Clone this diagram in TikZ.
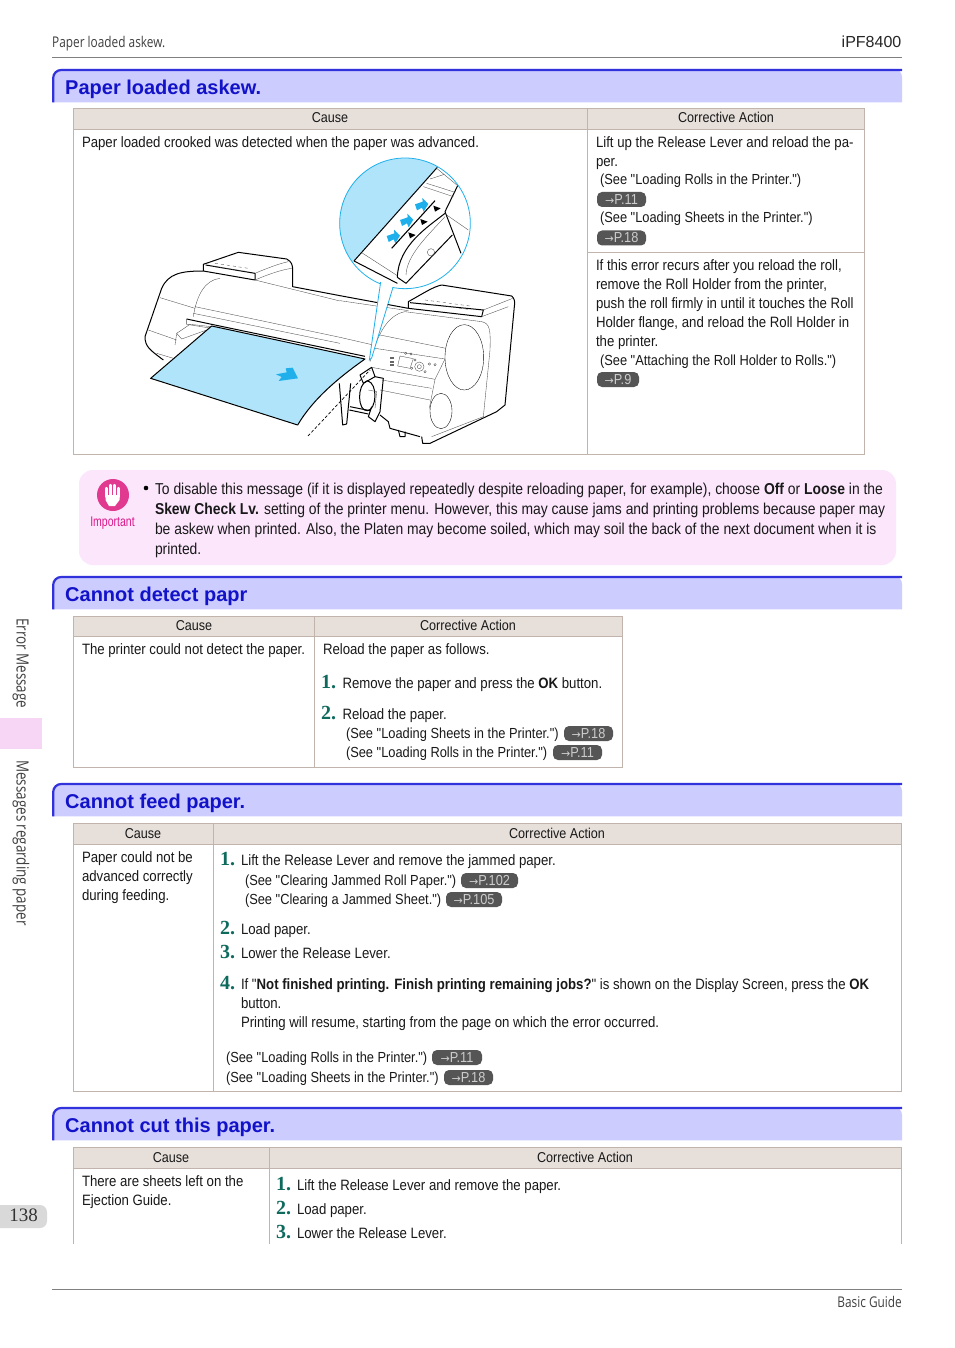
\documentclass[tikz,border=0pt]{standalone}
\usepackage{fontspec}
\newfontfamily\cellfont[FakeStretch=0.88]{Liberation Sans}
\newfontfamily\narrowfont[FakeStretch=0.75]{Liberation Sans}
\newfontfamily\bandfont{Liberation Sans}
\newfontfamily\thinfont[FakeStretch=0.8]{Open Sans}
\newfontfamily\numfont{Liberation Serif}
\newfontfamily\arrowfont{DejaVu Sans}
\definecolor{band line}{HTML}{3232DC}
\definecolor{band fill}{HTML}{CCCCFF}
\definecolor{band text}{HTML}{1212C8}
\definecolor{cell line}{HTML}{C0B4AC}
\definecolor{cell head}{HTML}{E6DFDA}
\definecolor{step green}{HTML}{0F6A5E}
\definecolor{note fill}{HTML}{FCE6FC}
\definecolor{note red}{HTML}{E0398F}
\definecolor{side pink}{HTML}{F7D5F5}
\definecolor{loupe}{HTML}{1FB0EC}
\definecolor{sheet}{HTML}{B0E4FA}
\definecolor{pill grey}{HTML}{555555}
\tikzset{
  body text/.style = {inner sep = 0 pt, outer sep = 0 pt, anchor = base west, font = \cellfont\fontsize{15}{18}\selectfont, text = black!90},
  see text/.style = {body text, font = \cellfont\fontsize{14.6}{18}\selectfont},
  note text/.style = {body text, font = \cellfont\fontsize{15.78}{19}\selectfont},
  head text/.style = {body text, anchor = base, font = \cellfont\fontsize{14.3}{17}\selectfont},
  band text/.style = {inner sep = 0 pt, anchor = base west, font = \bandfont\bfseries\fontsize{20}{24}\selectfont, text = band text},
  step num/.style = {inner sep = 0 pt, anchor = base west, font = \numfont\bfseries\fontsize{20}{24}\selectfont, text = step green},
  run text/.style = {inner sep = 0 pt, font = \thinfont\fontsize{14.8}{17}\selectfont, text = black!75},
  side text/.style = {run text, rotate = -90, anchor = base west, font = \thinfont\fontsize{16.8}{19}\selectfont},
  pill/.style = {rounded corners = 5 pt, fill = pill grey, text = white!80!black, inner sep = 0 pt, minimum height = 15 pt, font = \cellfont\fontsize{14.5}{17}\selectfont},
  cell/.style = {draw = cell line, line width = 0.9 pt},
  cell top/.style = {cell, fill = cell head},
  thick line/.style = {line width = 1 pt, black, line join = round},
  thin line/.style = {line width = 0.35 pt, black!70},
  hand/.style = {white, line width = 2.1 pt, line cap = round}
}
\newcommand{\linkarrow}{{\arrowfont\fontsize{11}{13}\selectfont →}}
% blue title band with rounded top left corner
\newcommand{\titleband}[3]{%
  \fill[band fill] (53,#1+1) [rounded corners = 8 pt] -- (53,#1) -- (902,#1) [sharp corners] -- (902,#1+33.4) -- (53,#1+33.4) -- cycle;
  \draw[band line, line width = 2.2 pt] (53.2,#1+33.4) [rounded corners = 8 pt] -- (53.2,#1+1) -- (902,#1+1);
  \node[band text] (#2) at (65,#1+25.5) {#3};
}
\begin{document}
\begin{tikzpicture}[x = 1 pt, y = -1 pt]
  \useasboundingbox (0,0) rectangle (954,1348);
  \fill[white] (0,0) rectangle (954,1348);

  % page head and foot
  \node[run text, anchor = base west] (runhead) at (52,48) {Paper loaded askew.};
  \node[inner sep = 0 pt, anchor = base east, font = \bandfont\fontsize{16}{18}\selectfont, text = black!85] (model) at (901.5,48) {iPF8400};
  \draw[black!50, line width = 0.8 pt] (52,57.5) -- (902,57.5);
  \draw[black!50, line width = 0.8 pt] (52,1289.5) -- (902,1289.5);
  \node[run text, anchor = base east] (guide) at (902,1307) {Basic Guide};

  % side tabs
  \node[side text] (sideone) at (16.5,618) {Error Message};
  \fill[side pink] (0,718) rectangle (42,749);
  \node[side text] (sidetwo) at (16.5,760) {Messages regarding paper};
  \fill[black!15] (0,1205) [rounded corners = 7 pt] -- (47,1205) -- (47,1228) [sharp corners] -- (0,1228) -- cycle;
  \node[inner sep = 0 pt, anchor = base, font = \numfont\fontsize{19}{22}\selectfont, text = black!80] (pageno) at (23.5,1221) {138};

  % title bands
  \titleband{69}{bandone}{Paper loaded askew.}
  \titleband{576}{bandtwo}{Cannot detect papr}
  \titleband{783}{bandthree}{Cannot feed paper.}
  \titleband{1107}{bandfour}{Cannot cut this paper.}

  % table one
  \draw[cell top] (73.5,108.5) rectangle (864.5,129.5);
  \draw[cell] (73.5,129.5) rectangle (864.5,454.5);
  \draw[cell] (587.5,108.5) -- (587.5,454.5);
  \draw[cell] (587.5,252.5) -- (864.5,252.5);
  \node[head text] (causeone) at (330,123) {Cause};
  \node[head text] (actone) at (726,123) {Corrective Action};
  \node[body text] (textone) at (82,147.5) {Paper loaded crooked was detected when the paper was advanced.};
  \node[body text] at (596,147.5) {Lift up the Release Lever and reload the pa-};
  \node[body text] at (596,166.5) {per.};
  \node[see text] at (600,185) {(See "Loading Rolls in the Printer.")};
  \node[pill, minimum width = 49 pt] (linka) at (621.5,199.5) {\linkarrow P.11};
  \node[see text] at (600,223) {(See "Loading Sheets in the Printer.")};
  \node[pill, minimum width = 49 pt] (linkb) at (621.5,238) {\linkarrow P.18};
  \node[body text] at (596,270) {If this error recurs after you reload the roll,};
  \node[body text] at (596,289) {remove the Roll Holder from the printer,};
  \node[body text] at (596,308) {push the roll firmly in until it touches the Roll};
  \node[body text] at (596,327) {Holder flange, and reload the Roll Holder in};
  \node[body text] at (596,346) {the printer.};
  \node[see text] at (600,365) {(See "Attaching the Roll Holder to Rolls.")};
  \node[pill, minimum width = 42 pt] (linkc) at (618,379.5) {\linkarrow P.9};

  % printer, left part
  \begin{scope}[shift = {(140,245)}, scale = 1/3]
    \draw[thick line] (190,78) .. controls (125,78) and (85,85) .. (65,130) -- (15,275) .. controls (15,305) and (30,315) .. (70,345);
    \draw[thick line] (190,78) -- (190,58) -- (295,22) -- (440,42) .. controls (455,50) and (458,60) .. (458,75) -- (458,125) -- (600,152);
    \draw[thick line] (190,78) -- (345,105) -- (345,85) -- (197,60);
    \draw[thin line] (345,85) .. controls (380,70) and (420,55) .. (445,50);
    \draw[thin line] (345,105) .. controls (380,90) and (420,75) .. (455,70);
    \draw[thin line, dashed] (225,55) -- (325,70) (222,65) -- (325,80);
    \draw[thin line] (345,105) -- (600,168);
    \draw[thin line] (240,100) .. controls (195,105) and (170,150) .. (160,215);
    \draw[thin line] (60,158) -- (165,190) (25,255) -- (110,285);
    \draw[thin line] (165,185) -- (600,277);
    \draw[thin line] (160,205) -- (600,295);
    \draw[thick line] (140,222) -- (215,238) -- (675,334);
    \draw[thin line] (140,222) -- (140,238) -- (215,250);
    \draw[thin line] (110,265) -- (150,238) -- (215,245) (110,265) -- (125,282) -- (200,255);
    \draw[thin line] (105,300) -- (110,265);
    \draw[thin line] (50,325) -- (100,340);
    \draw[thick line, fill = sheet] (32,400) -- (215,243) -- (675,342) .. controls (600,395) and (520,460) .. (473,540) -- cycle;
    \fill[loupe] (408,388) -- (440,382) -- (437,370) -- (458,368) -- (474,400) -- (416,408) -- (425,396) -- cycle;
  \end{scope}

  % printer, right part
  \begin{scope}[shift = {(330,280)}, scale = 1/3]
    \draw[thick line] (30,47) -- (235,85);
    \draw[thin line] (30,62) -- (235,92);
    \draw[thin line] (30,172) -- (130,195);
    \draw[thick line] (235,85) -- (235,65) .. controls (280,40) and (310,20) .. (335,15) -- (545,48) .. controls (553,55) and (556,65) .. (553,80) -- (525,375) -- (500,395) -- (300,490) -- (278,490) -- (275,470);
    \draw[thick line] (235,85) -- (455,110) -- (460,90) -- (240,68);
    \draw[thin line] (460,90) -- (548,55) (455,110) -- (535,80);
    \draw[thin line, dashed] (285,60) -- (420,78) (280,70) -- (415,88);
    \draw[thin line] (120,245) .. controls (140,170) and (170,105) .. (225,95) -- (455,125) .. controls (480,130) and (482,150) .. (480,210) -- (460,410) -- (305,470);
    \draw[thin line, black] (403,232) ellipse [x radius = 58, y radius = 98];
    \draw[thin line, black] (333,393) ellipse [x radius = 33, y radius = 53];
    \draw[thin line] (150,165) -- (348,205) (135,205) -- (345,237) (125,262) -- (315,298);
    \draw[thin line] (345,237) -- (315,298) -- (298,385);
    \draw[thin line] (155,300) -- (305,325) (150,330) -- (300,360);
    \draw[thin line] (210,228) -- (250,236) -- (240,265) -- (203,258) -- cycle;
    \draw[thin line] (268,260) circle (14) (268,260) circle (6);
    \foreach \bx/\by in {298/252, 315/254, 285/275, 255/240, 245/265, 227/220, 243/222}
      \draw[thin line] (\bx,\by) circle (3.5);
    \foreach \by in {232, 243, 253}
      \fill[black!60] (181,\by) rectangle (192,\by+5);
    \draw[thick line] (90,285) -- (125,262) -- (135,290) -- (100,310) -- cycle;
    \draw[thick line] (112,302) .. controls (80,312) and (82,395) .. (112,392) .. controls (140,390) and (145,310) .. (112,302);
    \draw[thin line] (115,330) -- (140,335) -- (135,385);
    \draw[thick line] (135,290) -- (160,295) -- (150,395) -- (135,425) -- (115,410) -- (125,380);
    \draw[thick line] (60,380) -- (120,392) (58,390) -- (115,402);
    \draw[thick line] (28,310) -- (38,435) -- (50,432) -- (62,310);
    \draw[thick line] (150,405) -- (175,425) -- (180,445) -- (270,470);
    \draw[thick line] (205,450) -- (210,470) -- (225,470) -- (225,455);
  \end{scope}
  \coordinate (dashend) at (308,436);
  \coordinate (dashtop) at (370,370);
  \draw[black, densely dashed, line width = 0.7 pt] (dashend) -- (dashtop);

  % loupe with enlarged guide
  \begin{scope}[shift = {(335,155)}, scale = 1/3]
    \fill[white] (210,205) circle (196);
    \begin{scope}
      \clip (210,205) circle (196);
      \fill[sheet] (307,37) -- (57,318) -- (0,382) -- (0,0) -- (307,0) -- cycle;
      \draw[thick line] (307,37) -- (57,318);
      \draw[thick line] (57,318) -- (187,385);
      \draw[thin line] (80,293) -- (187,362);
    \end{scope}
    \draw[thick line] (368,92) -- (330,170) -- (378,295);
    \draw[thick line] (213,385) -- (352,240);
    \draw[thick line] (187,367) -- (213,385);
    \draw[thick line] (330,175) .. controls (280,215) and (190,270) .. (187,367);
    \draw[thin line] (330,185) .. controls (280,240) and (215,300) .. (213,360);
    \draw[thin line] (335,180) -- (400,225) (265,95) -- (355,125) (275,85) -- (360,112) (285,72) -- (328,58) (305,40) -- (368,92);
    \draw[thin line] (288,292) circle (11);
    \draw[black, line width = 1.1 pt] (170,280) -- (300,137);
    \fill[black] (295,152) -- (317,160) -- (300,170) -- cycle;
    \fill[black] (256,192) -- (278,200) -- (261,210) -- cycle;
    \fill[black] (220,232) -- (242,240) -- (225,250) -- cycle;
    \foreach \ax/\ay in {260/150, 215/197, 175/245}
      \fill[loupe, shift = {(\ax,\ay)}] (-20,-2) -- (3,-10) -- (2,-21) -- (20,-3) -- (6,20) -- (1,8) -- (-14,16) -- cycle;
    \draw[loupe, line width = 0.8 pt] (210,205) circle (196);
    \fill[white] (137,375) -- (103,615) -- (110,609) -- (174,392) -- cycle;
    \draw[loupe, line width = 0.8 pt] (137,381) -- (103,615) -- (110,609) -- (174,397);
  \end{scope}

  % note box
  \fill[note fill, rounded corners = 14 pt] (79,470) rectangle (896,565);
  \fill[note red] (113,495) circle (16);
  \foreach \hx/\htop in {106.5/488, 110.5/485, 114.5/485, 118.5/488}
    \draw[hand] (\hx,\htop) -- (\hx,497);
  \fill[white] (105.5,495) -- (119.5,495) -- (119.5,500) -- (115,506) -- (109,506) -- (105.5,500) -- cycle;
  \node[inner sep = 0 pt, anchor = base, font = \narrowfont\fontsize{14}{17}\selectfont, text = magenta!90!black] (notelabel) at (112.5,526) {Important};
  \fill[band text] (146,488) circle (2.3);
  \node[note text] (notea) at (155,494) {To disable this message (if it is displayed repeatedly despite reloading paper, for example), choose \textbf{Off} or \textbf{Loose} in the};
  \node[note text] (noteb) at (155,514) {\textbf{Skew Check Lv.} setting of the printer menu. However, this may cause jams and printing problems because paper may};
  \node[note text] (notec) at (155,534) {be askew when printed. Also, the Platen may become soiled, which may soil the back of the next document when it is};
  \node[note text] (noted) at (155,554) {printed.};

  % table two
  \draw[cell top] (73.5,616.5) rectangle (622.5,636.5);
  \draw[cell] (73.5,636.5) rectangle (622.5,767.5);
  \draw[cell] (314.5,616.5) -- (314.5,767.5);
  \node[head text] (causetwo) at (194,630) {Cause};
  \node[head text] (acttwo) at (468,630) {Corrective Action};
  \node[body text] at (82,654) {The printer could not detect the paper.};
  \node[body text] at (323,654) {Reload the paper as follows.};
  \node[step num] at (321,688) {1.};
  \node[body text] at (342.5,688) {Remove the paper and press the \textbf{OK} button.};
  \node[step num] at (321,719) {2.};
  \node[body text] at (342.5,719) {Reload the paper.};
  \node[see text] at (346,738) {(See "Loading Sheets in the Printer.")};
  \node[pill, minimum width = 49 pt] (linkd) at (588.5,733.5) {\linkarrow P.18};
  \node[see text] at (346,757) {(See "Loading Rolls in the Printer.")};
  \node[pill, minimum width = 49 pt] (linke) at (577.5,752.5) {\linkarrow P.11};

  % table three
  \draw[cell top] (73.5,823.5) rectangle (901.5,844.5);
  \draw[cell] (73.5,844.5) rectangle (901.5,1091.5);
  \draw[cell] (213.5,823.5) -- (213.5,1091.5);
  \node[head text] (causethree) at (143,838) {Cause};
  \node[head text] (actthree) at (557,838) {Corrective Action};
  \node[body text] at (82,862) {Paper could not be};
  \node[body text] at (82,881) {advanced correctly};
  \node[body text] at (82,900) {during feeding.};
  \node[step num] at (220,865) {1.};
  \node[body text] at (241,865) {Lift the Release Lever and remove the jammed paper.};
  \node[see text] at (245,885) {(See "Clearing Jammed Roll Paper.")};
  \node[pill, minimum width = 57 pt] (linkf) at (489.5,880.5) {\linkarrow P.102};
  \node[see text] at (245,904) {(See "Clearing a Jammed Sheet.")};
  \node[pill, minimum width = 56 pt] (linkg) at (474,899.5) {\linkarrow P.105};
  \node[step num] at (220,934) {2.};
  \node[body text] at (241,934) {Load paper.};
  \node[step num] at (220,958) {3.};
  \node[body text] at (241,958) {Lower the Release Lever.};
  \node[step num] at (220,989) {4.};
  \node[body text] at (241,989) {If "\textbf{Not finished printing. Finish printing remaining jobs?}" is shown on the Display Screen, press the \textbf{OK}};
  \node[body text] at (241,1008) {button.};
  \node[body text] at (241,1027) {Printing will resume, starting from the page on which the error occurred.};
  \node[see text] at (226,1062) {(See "Loading Rolls in the Printer.")};
  \node[pill, minimum width = 50 pt] (linkh) at (457,1057.5) {\linkarrow P.11};
  \node[see text] at (226,1082) {(See "Loading Sheets in the Printer.")};
  \node[pill, minimum width = 49 pt] (linki) at (468.5,1077.5) {\linkarrow P.18};

  % table four, cut at the foot of the page
  \draw[cell top] (73.5,1147.5) rectangle (901.5,1168.5);
  \draw[cell] (73.5,1168.5) -- (73.5,1244) (269.5,1147.5) -- (269.5,1244) (901.5,1168.5) -- (901.5,1244);
  \node[head text] (causefour) at (171,1162) {Cause};
  \node[head text] (actfour) at (585,1162) {Corrective Action};
  \node[body text] at (82,1186) {There are sheets left on the};
  \node[body text] at (82,1205) {Ejection Guide.};
  \node[step num] at (276,1190) {1.};
  \node[body text] at (297,1190) {Lift the Release Lever and remove the paper.};
  \node[step num] at (276,1214) {2.};
  \node[body text] at (297,1214) {Load paper.};
  \node[step num] at (276,1238) {3.};
  \node[body text] at (297,1238) {Lower the Release Lever.};
\end{tikzpicture}
\end{document}
